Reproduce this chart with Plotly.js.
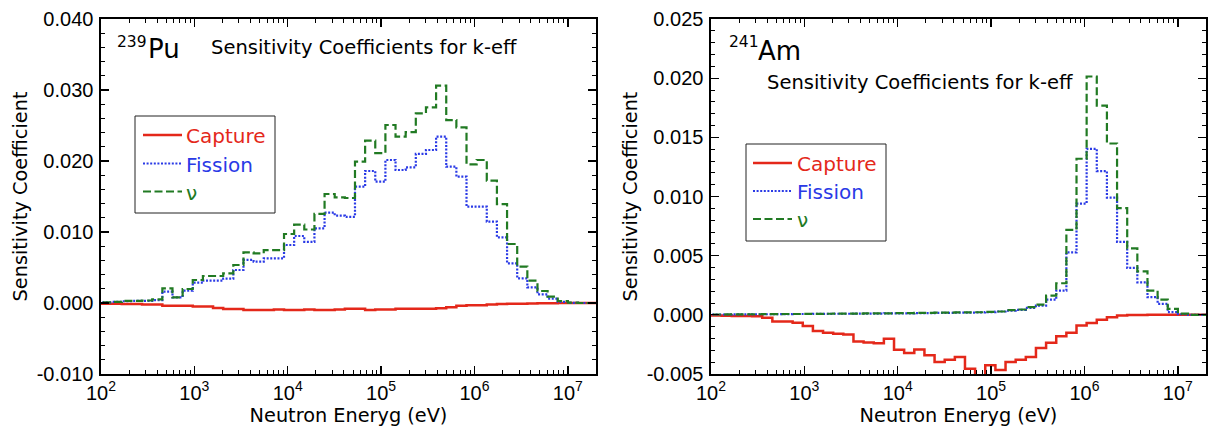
<!DOCTYPE html>
<html>
<head>
<meta charset="utf-8">
<script src="https://cdn.plot.ly/plotly-3.0.1.min.js"></script>
<style>html,body{margin:0;padding:0;background:#fff;}#chart{width:1208px;height:435px;}</style>
</head>
<body>
<div id="chart"></div>
<script>
// Group energy boundaries (eV), 0.25-lethargy structure, ascending
const energyEdges = [78.9, 101.3, 130.1, 167.0, 214.5, 275.4, 353.6, 454.0, 582.9, 748.5,
  961.1, 1234.1, 1584.6, 2034.7, 2612.6, 3354.6, 4307.4, 5530.8, 7101.7, 9118.8,
  11709, 15034, 19305, 24788, 31828, 40868, 52475, 67379, 86517, 111090,
  142642, 183156, 235177, 301974, 387742, 497871, 639279, 820850, 1053992, 1353353,
  1737739, 2231302, 2865048, 3678794, 4723666, 6065307, 7788008, 10000000, 12840000, 16487000, 20000000];

// Pu-239 sensitivity coefficients per group (ascending energy)
const puNu = [0.0001, 0.0001, 0.00015, 0.0003, 0.0003, 0.00035, 0.0005, 0.00207, 0.0008, 0.00197,
  0.00324, 0.0038, 0.0038, 0.00418, 0.00535, 0.00714, 0.0070, 0.00746, 0.00746, 0.00972,
  0.01103, 0.01035, 0.01254, 0.01535, 0.01488, 0.01479, 0.01991, 0.02286, 0.02112, 0.02507,
  0.02343, 0.02408, 0.02671, 0.02756, 0.03061, 0.02577, 0.02474, 0.01953, 0.02014, 0.01723,
  0.01394, 0.00831, 0.00512, 0.00315, 0.00169, 0.00089, 0.00028, 0.00004, 0, 0];
const puFission = [0.0001, 0.0001, 0.00015, 0.00025, 0.0003, 0.0003, 0.0004, 0.0016, 0.0008, 0.00174,
  0.00286, 0.00315, 0.00315, 0.00343, 0.00465, 0.00606, 0.00582, 0.00629, 0.00629, 0.00817,
  0.00944, 0.00862, 0.01052, 0.01272, 0.01232, 0.01214, 0.01638, 0.01859, 0.01709, 0.02014,
  0.01873, 0.01911, 0.02099, 0.02155, 0.02343, 0.0192, 0.01779, 0.01357, 0.01357, 0.01146,
  0.00925, 0.00559, 0.00347, 0.00221, 0.00122, 0.00061, 0.00017, 0.00003, 0, 0];
const puCapture = [-0.0001, -0.0001, -0.00012, -0.00015, -0.00015, -0.0002, -0.0002, -0.0004, -0.0004, -0.0004,
  -0.0005, -0.0005, -0.0007, -0.00085, -0.00085, -0.001, -0.001, -0.001, -0.0009, -0.001,
  -0.001, -0.0009, -0.001, -0.001, -0.0009, -0.0008, -0.0008, -0.001, -0.0009, -0.0009,
  -0.0008, -0.0008, -0.0008, -0.0008, -0.00075, -0.0006, -0.0004, -0.0003, -0.0003, -0.0002,
  -0.00015, -0.00012, -0.0001, -0.00008, -0.00005, -0.00003, -0.00001, 0, 0, 0];

// Am-241 sensitivity coefficients per group (ascending energy)
const amNu = [0.00003, 0.00003, 0.00004, 0.00004, 0.00005, 0.00005, 0.00006, 0.00006, 0.00007, 0.00007,
  0.00008, 0.00008, 0.00009, 0.0001, 0.0001, 0.00011, 0.00012, 0.00012, 0.00013, 0.00014,
  0.00015, 0.00016, 0.00017, 0.00018, 0.00019, 0.0002, 0.00021, 0.00022, 0.00025, 0.00028,
  0.0004, 0.00045, 0.00065, 0.00087, 0.00163, 0.00267, 0.00718, 0.01319, 0.02014, 0.01768,
  0.01448, 0.00901, 0.00561, 0.00368, 0.00205, 0.00129, 0.0005, 0.0001, 0, 0];
const amFission = [0.00002, 0.00003, 0.00003, 0.00004, 0.00004, 0.00005, 0.00005, 0.00006, 0.00006, 0.00007,
  0.00007, 0.00008, 0.00008, 0.00009, 0.00009, 0.0001, 0.0001, 0.00011, 0.00012, 0.00012,
  0.00013, 0.00014, 0.00015, 0.00016, 0.00017, 0.00018, 0.00019, 0.0002, 0.00023, 0.00028,
  0.00036, 0.00042, 0.00059, 0.00078, 0.00129, 0.00205, 0.00528, 0.0094, 0.01403, 0.01215,
  0.00991, 0.00617, 0.00396, 0.00275, 0.00149, 0.00093, 0.00023, 0.00005, 0, 0];
const amCapture = [-0.00005, -0.00006, -0.00008, -0.0001, -0.0001, -0.00011, -0.00025, -0.00056, -0.00056, -0.00067,
  -0.00095, -0.00137, -0.00152, -0.0016, -0.00166, -0.00225, -0.00233, -0.00241, -0.00202, -0.00295,
  -0.00323, -0.00292, -0.00342, -0.00398, -0.00379, -0.00356, -0.00455, -0.0053, -0.00427, -0.00466,
  -0.00398, -0.00379, -0.00356, -0.00281, -0.00236, -0.0018, -0.00152, -0.0009, -0.0007, -0.00042,
  -0.0002, -0.00006, -0.00002, -0.00001, 0, 0, 0, 0, 0, 0];

const xTickVals = [1e2, 1e3, 1e4, 1e5, 1e6, 1e7];
const xTickText = ['10<sup>2</sup>', '10<sup>3</sup>', '10<sup>4</sup>', '10<sup>5</sup>', '10<sup>6</sup>', '10<sup>7</sup>'];
const puTickVals = [-0.01, 0, 0.01, 0.02, 0.03, 0.04];
const puTickText = ['-0.010', '0.000', '0.010', '0.020', '0.030', '0.040'];
const amTickVals = [-0.005, 0, 0.005, 0.01, 0.015, 0.02, 0.025];
const amTickText = ['-0.005', '0.000', '0.005', '0.010', '0.015', '0.020', '0.025'];
const seriesNames = ['Capture', 'Fission', '\u03bd'];

const RED = '#e4281a', BLUE = '#2a3ae6', GREEN = '#217a23';
const FONT = '"Liberation Sans", Arial, Helvetica, sans-serif';
const FONT2 = '"DejaVu Sans", Verdana, sans-serif';

function stepY(v) { return v.concat([v[v.length - 1]]); }
function trace(vals, color, dash, width, xa, ya) {
  return { x: energyEdges, y: stepY(vals), type: 'scatter', mode: 'lines',
    line: { shape: 'hv', color: color, dash: dash, width: width },
    xaxis: xa, yaxis: ya, showlegend: false, hoverinfo: 'skip' };
}

const minorX = [];
for (let d = 2; d <= 7; d++) for (let m = 2; m <= 9; m++) minorX.push(m * Math.pow(10, d));

const data = [
  trace(puCapture, RED, 'solid', 2.5, 'x', 'y'),
  trace(puFission, BLUE, '2px,1.6px', 2.2, 'x', 'y'),
  trace(puNu, GREEN, '8px,3.5px', 2.2, 'x', 'y'),
  trace(amCapture, RED, 'solid', 2.5, 'x2', 'y2'),
  trace(amFission, BLUE, '2px,1.6px', 2.2, 'x2', 'y2'),
  trace(amNu, GREEN, '8px,3.5px', 2.2, 'x2', 'y2')
];

function xAxis(domain, anchor) {
  return { type: 'log', range: [2, Math.log10(2e7)], domain: domain, anchor: anchor,
    tickvals: xTickVals, ticktext: xTickText, ticks: 'inside', ticklen: 8, tickwidth: 1.3,
    tickcolor: '#000', showline: true, linecolor: '#000', linewidth: 1.6, mirror: 'ticks',
    showgrid: false, zeroline: false, tickfont: { family: FONT, size: 20, color: '#000' },
    minor: { tickvals: minorX, ticks: 'inside', ticklen: 4, tickwidth: 1, tickcolor: '#000', showgrid: false },
    title: { text: 'Neutron Eneryg (eV)', font: { family: FONT2, size: 19.3, color: '#000' }, standoff: 5 } };
}
function yAxis(range, tv, tt, minorD, anchor) {
  return { range: range, anchor: anchor, tickvals: tv, ticktext: tt, ticks: 'inside', ticklen: 8,
    tickwidth: 1.3, tickcolor: '#000', showline: true, linecolor: '#000', linewidth: 1.6, mirror: 'ticks',
    showgrid: false, zeroline: false, tickfont: { family: FONT, size: 20, color: '#000' },
    ticklabelstandoff: 2,
    minor: { dtick: minorD, ticks: 'inside', ticklen: 4, tickwidth: 1, tickcolor: '#000', showgrid: false },
    title: { text: 'Sensitivity Coefficient', font: { family: FONT2, size: 19.3, color: '#000' }, standoff: 4 } };
}

const W = 1208, H = 435, ML = 101, MR = 2, MT = 19, MB = 61;
const PW = W - ML - MR, PH = H - MT - MB;
const px = X => (X - ML) / PW;
const py = Y => (H - MB - Y) / PH;

function legend(box, lineX, textX, rowsY) {
  const shapes = [{ type: 'rect', xref: 'paper', yref: 'paper', x0: px(box[0]), x1: px(box[2]),
    y0: py(box[3]), y1: py(box[1]), line: { color: '#222', width: 1 }, fillcolor: '#fff' }];
  const colors = [RED, BLUE, GREEN];
  const dashes = ['solid', '2px,1.6px', '8px,3.5px'];
  const anns = [];
  rowsY.forEach((Y, i) => {
    shapes.push({ type: 'line', xref: 'paper', yref: 'paper', x0: px(lineX[0]), x1: px(lineX[1]),
      y0: py(Y), y1: py(Y), line: { color: colors[i], width: i === 0 ? 2.5 : 2.2, dash: dashes[i] } });
    anns.push({ xref: 'paper', yref: 'paper', x: px(textX), y: py(Y + 1), xanchor: 'left', yanchor: 'middle',
      text: seriesNames[i], showarrow: false, font: { family: FONT2, size: 20, color: colors[i] } });
  });
  return { shapes, anns };
}

const legL = legend([135, 116, 275, 213], [143, 182], 184, [135, 163.5, 191.5]);
const legR = legend([746, 144, 886, 241], [753, 792], 795, [163, 191, 219]);

function label(X, Y, text, size) {
  return { xref: 'paper', yref: 'paper', x: px(X), y: py(Y), xanchor: 'left', yanchor: 'middle',
    showarrow: false, text: text, font: { family: FONT2, size: size, color: '#000' } };
}

const annotations = [
  label(115, 42, '239', 15.5),
  label(146, 49, 'Pu', 26),
  label(209, 47, 'Sensitivity Coefficients for k-eff', 19.5),
  label(727, 42, '241', 15.5),
  label(756, 51, 'Am', 26),
  label(765, 82, 'Sensitivity Coefficients for k-eff', 19.5)
].concat(legL.anns, legR.anns);

const layout = {
  width: W, height: H, margin: { l: ML, r: MR, t: MT, b: MB, pad: 0 },
  paper_bgcolor: '#fff', plot_bgcolor: '#fff', showlegend: false,
  font: { family: FONT, color: '#000' },
  xaxis: xAxis([0, px(596)], 'y'),
  yaxis: yAxis([-0.01, 0.04], puTickVals, puTickText, 0.002, 'x'),
  xaxis2: xAxis([px(711), 1], 'y2'),
  yaxis2: yAxis([-0.005, 0.025], amTickVals, amTickText, 0.001, 'x2'),
  shapes: legL.shapes.concat(legR.shapes),
  annotations: annotations
};

Plotly.newPlot('chart', data, layout, { staticPlot: true, displayModeBar: false });
</script>
</body>
</html>
